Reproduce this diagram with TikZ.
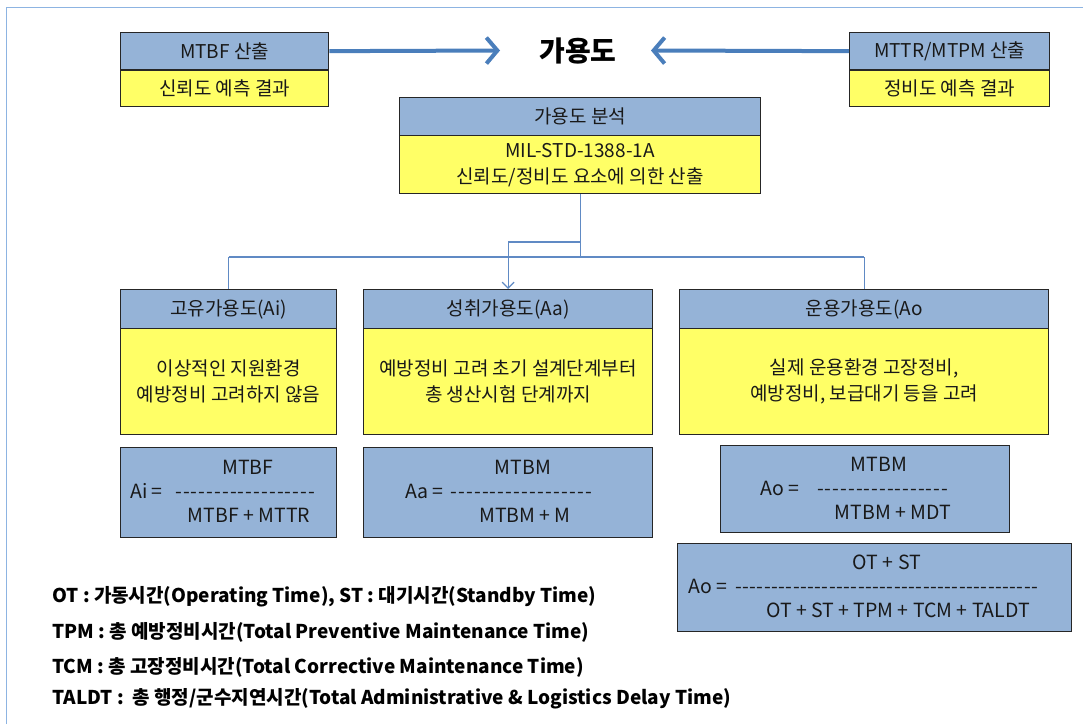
\documentclass[tikz,border=0pt]{standalone}
\usepackage{fontspec}
\setmainfont{Noto Sans CJK KR}
\usetikzlibrary{arrows.meta}
\definecolor{hdrblue}{RGB}{149,179,215}
\definecolor{boxyellow}{RGB}{255,255,102}
\definecolor{arrowblue}{RGB}{74,126,187}
\definecolor{linkblue}{RGB}{96,138,196}
\definecolor{framecol}{RGB}{141,180,226}
\definecolor{inkcol}{RGB}{25,25,25}
\newcommand\dashrow[2]{\hbox to #2{-\foreach \i in {2,...,#1}{\hfill-}}}
\tikzset{
  box/.style={draw=black!85, line width=1.3pt, inner sep=0pt, anchor=north west,
    align=center, text=inkcol, font=\fontsize{19}{26}\selectfont},
  hdr/.style={box, fill=hdrblue},
  bodybox/.style={box, fill=boxyellow},
  ftxt/.style={inner sep=0pt, text=inkcol, font=\fontsize{19.5}{22}\selectfont},
  legend/.style={inner sep=0pt, anchor=base west, text=black, font=\fontsize{19}{22}\selectfont\bfseries},
  bigarrow/.style={draw=arrowblue, line width=4pt, -{Straight Barb[length=11pt,width=26pt]}},
  link/.style={draw=linkblue, line width=1.2pt},
  linkarrow/.style={link, -{Straight Barb[length=6pt,width=12pt,line width=1.2pt]}}
}
\begin{document}
\begin{tikzpicture}[x=1pt,y=-1pt]
\useasboundingbox (0,0) rectangle (1083,724);
\fill[white] (0,0) rectangle (1083,724);
\draw[framecol, line width=1pt] (6,724) -- (6,7) -- (1083,7);

% top row
\node[hdr, minimum width=208, minimum height=37] (mtbfH) at (120,32) {MTBF 산출};
\node[bodybox, minimum width=208, minimum height=36] (mtbfB) at (120,70) {신뢰도 예측 결과};
\node[hdr, minimum width=200, minimum height=37] (mttrH) at (849,32) {MTTR/MTPM 산출};
\node[bodybox, minimum width=200, minimum height=36] (mttrB) at (849,70) {정비도 예측 결과};
\node[inner sep=0pt, font=\fontsize{28}{32}\selectfont\bfseries] (title) at (578,51) {가용도};
\coordinate (tipL) at (500,50.5);
\coordinate (tipR) at (651,50.5);
\draw[bigarrow] (mtbfH.east) -- (tipL);
\draw[bigarrow] (mttrH.west) -- (tipR);

% analysis box
\node[hdr, minimum width=361, minimum height=38] (anH) at (399,97) {가용도 분석};
\node[bodybox, minimum width=361, minimum height=58] (anB) at (399,135) {MIL-STD-1388-1A\\신뢰도/정비도 요소에 의한 산출};

% three categories
\node[hdr, minimum width=216, minimum height=39] (aiH) at (120,289) {고유가용도(Ai)};
\node[bodybox, minimum width=216, minimum height=106] (aiB) at (120,328) {이상적인 지원환경\\예방정비 고려하지 않음};
\node[hdr, minimum width=289, minimum height=39] (aaH) at (363,289) {성취가용도(Aa)};
\node[bodybox, minimum width=289, minimum height=106] (aaB) at (363,328) {예방정비 고려 초기 설계단계부터\\총 생산시험 단계까지};
\node[hdr, minimum width=369, minimum height=39] (aoH) at (679,289) {운용가용도(Ao};
\node[bodybox, minimum width=369, minimum height=106] (aoB) at (679,328) {실제 운용환경 고장정비,\\예방정비, 보급대기 등을 고려};

% connectors
\coordinate (jn) at (anB.south |- 0,257);
\coordinate (br) at (anB.south |- 0,242);
\coordinate (brL) at (aaH.north |- 0,242);
\coordinate (hL) at (aiH.north |- 0,257);
\coordinate (hR) at (aoH.north |- 0,257);
\draw[link] (anB.south) -- (jn);
\draw[link] (hL) -- (hR);
\draw[link] (hL) -- (aiH.north);
\draw[link] (hR) -- (aoH.north);
\draw[linkarrow] (br) -- (brL) -- (aaH.north);

% formula boxes
\node[hdr, minimum width=216, minimum height=90] (fAi) at (120,447) {};
\node[ftxt, anchor=base] (fAiN) at (248,474) {MTBF};
\node[ftxt, anchor=base west] (fAiL) at (130,498) {Ai =};
\node[ftxt, anchor=base west] (fAiD) at (175,498) {\dashrow{18}{140pt}};
\node[ftxt, anchor=base] (fAiM) at (249,522) {MTBF + MTTR};

\node[hdr, minimum width=289, minimum height=90] (fAa) at (363,447) {};
\node[ftxt, anchor=base] (fAaN) at (523,474) {MTBM};
\node[ftxt, anchor=base west] (fAaL) at (405,498) {Aa =};
\node[ftxt, anchor=base west] (fAaD) at (450,498) {\dashrow{18}{142pt}};
\node[ftxt, anchor=base] (fAaM) at (525,522) {MTBM + M};

\node[hdr, minimum width=289, minimum height=87] (fAo) at (720,445) {};
\node[ftxt, anchor=base] (fAoN) at (879,471) {MTBM};
\node[ftxt, anchor=base west] (fAoL) at (760,495) {Ao =};
\node[ftxt, anchor=base west] (fAoD) at (817,495) {\dashrow{17}{131pt}};
\node[ftxt, anchor=base] (fAoM) at (893,519) {MTBM + MDT};

\node[hdr, minimum width=394, minimum height=88] (fAt) at (677,543) {};
\node[ftxt, anchor=base] (fAtN) at (887,569) {OT + ST};
\node[ftxt, anchor=base west] (fAtL) at (688,593) {Ao =};
\node[ftxt, anchor=base west] (fAtD) at (735,593) {\dashrow{42}{303pt}};
\node[ftxt, anchor=base] (fAtM) at (898,617) {OT + ST + TPM + TCM + TALDT};

% legend
\node[legend] (lg1) at (52,602) {OT : 가동시간(Operating Time), ST : 대기시간(Standby Time)};
\node[legend] (lg2) at (52,638) {TPM : 총 예방정비시간(Total Preventive Maintenance Time)};
\node[legend] (lg3) at (52,673) {TCM : 총 고장정비시간(Total Corrective Maintenance Time)};
\node[legend] (lg4) at (52,704) {TALDT :\ \ 총 행정/군수지연시간(Total Administrative \& Logistics Delay Time)};
\end{tikzpicture}
\end{document}
